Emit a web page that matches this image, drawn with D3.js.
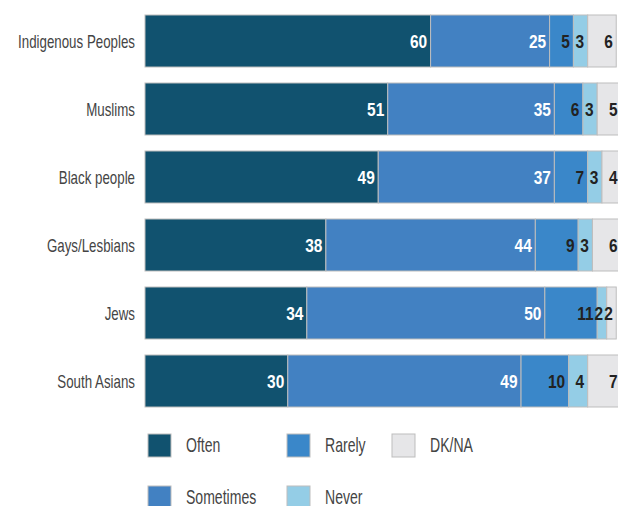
<!DOCTYPE html>
<html>
<head>
<meta charset="utf-8">
<script src="https://d3js.org/d3.v7.min.js"></script>
<style type="text/css">
body {margin:0;background:#fff;}
svg {display:block;font-family:"Liberation Sans",Arial,sans-serif;}
.row-label {fill:#444;font-size:18px;}
.val {font-size:18px;font-weight:bold;}
.legend text {fill:#444;font-size:20px;}
</style>
</head>
<body>
<svg id="chart" width="618" height="506"></svg>
<script type="text/javascript">
// data
var groups = ["Indigenous Peoples", "Muslims", "Black people", "Gays/Lesbians", "Jews", "South Asians"];
var responses = ["Often", "Sometimes", "Rarely", "Never", "DK/NA"];
var often     = [60, 51, 49, 38, 34, 30];
var sometimes = [25, 35, 37, 44, 50, 49];
var rarely    = [5, 6, 7, 9, 11, 10];
var never     = [3, 3, 3, 3, 2, 4];
var dkna      = [6, 5, 4, 6, 2, 7];

var colors = ["#11526f", "#4281c2", "#3a87c9", "#94cde6", "#e6e6e8"];
var textColors = ["#fff", "#fff", "#222", "#222", "#222"];

var series = [often, sometimes, rarely, never, dkna];

var rows = groups.map(function(g, i) {
	var r = {group: g};
	responses.forEach(function(k, j) { r[k] = series[j][i]; });
	return r;
});

var stacked = d3.stack().keys(responses)(rows);

var svg = d3.select("#chart");

var x = d3.scaleLinear().domain([0, 100]).range([145, 621]);
var y = d3.scaleBand().domain(groups).range([15, 407]).paddingInner(16/68).paddingOuter(0);

// condensed look: squeeze text horizontally
var narrow = 0.74;
var valNarrow = 0.86;

// bars
var layer = svg.selectAll("g.layer")
	.data(stacked)
	.enter().append("g")
	.attr("class", "layer")
	.attr("fill", function(d, i) { return colors[i]; });

layer.selectAll("rect")
	.data(function(d) { return d; })
	.enter().append("rect")
	.attr("x", function(d) { return x(d[0]); })
	.attr("y", function(d) { return y(d.data.group); })
	.attr("width", function(d) { return x(d[1]) - x(d[0]); })
	.attr("height", y.bandwidth())
	.attr("stroke", "#bdbdbd")
	.attr("stroke-width", 1);

// value labels
layer.each(function(s, i) {
	d3.select(this).selectAll("text")
		.data(s)
		.enter().append("text")
		.attr("class", "val")
		.attr("transform", function(d) {
			return "translate(" + (x(d[1]) - 3.5) + "," + (y(d.data.group) + y.bandwidth() / 2 + 6.5) + ") scale(" + valNarrow + ",1)";
		})
		.attr("text-anchor", "end")
		.attr("fill", textColors[i])
		.text(function(d) { return d[1] - d[0]; });
});

// row labels
svg.selectAll("text.row-label")
	.data(groups)
	.enter().append("text")
	.attr("class", "row-label")
	.attr("transform", function(d) {
		return "translate(135," + (y(d) + y.bandwidth() / 2 + 7) + ") scale(" + narrow + ",1)";
	})
	.attr("text-anchor", "end")
	.text(function(d) { return d; });

// legend, filled column by column
var legend = svg.append("g").attr("class", "legend");
var colX = [148, 287, 392];
var rowY = [434, 486];
responses.forEach(function(k, i) {
	var cx = colX[Math.floor(i / 2)];
	var cy = rowY[i % 2];
	legend.append("rect")
		.attr("x", cx).attr("y", cy)
		.attr("width", 23).attr("height", 23)
		.attr("fill", colors[i])
		.attr("stroke", "#bdbdbd");
	legend.append("text")
		.attr("transform", "translate(" + (cx + 38) + "," + (cy + 18) + ") scale(" + (narrow * 0.95) + ",1)")
		.text(k);
});
</script>
</body>
</html>
